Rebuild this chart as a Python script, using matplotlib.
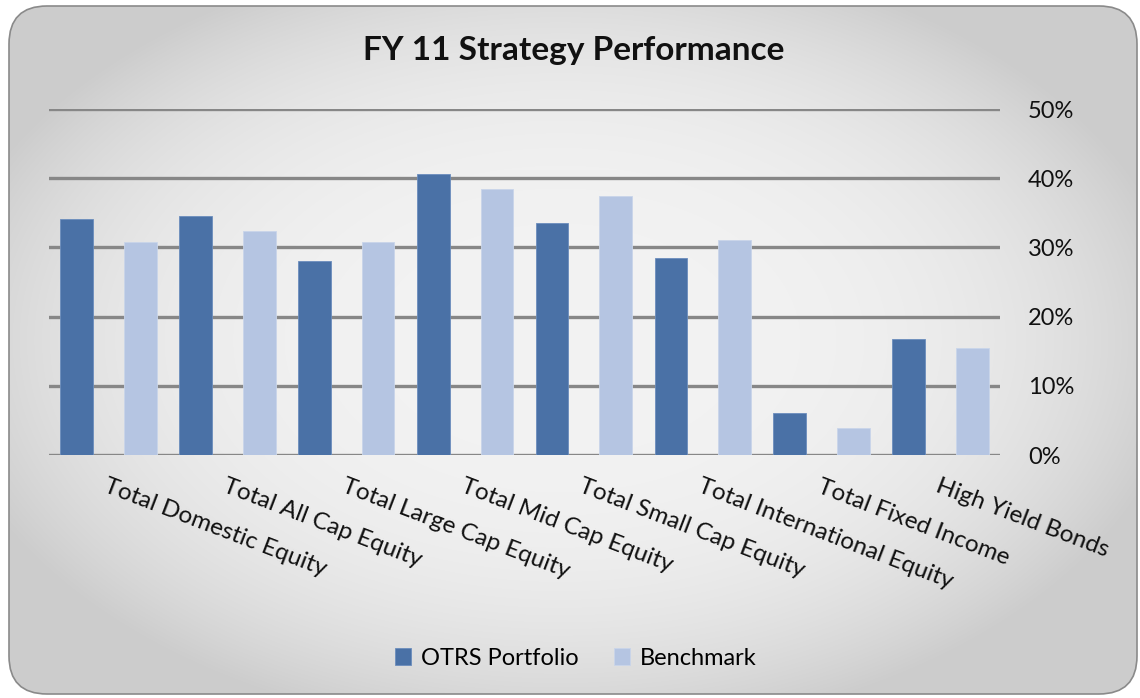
import numpy as np
import matplotlib
matplotlib.use("Agg")
import matplotlib.pyplot as plt
from matplotlib.patches import FancyBboxPatch
from matplotlib.ticker import FuncFormatter

categories = ["Total Domestic Equity", "Total All Cap Equity", "Total Large Cap Equity",
              "Total Mid Cap Equity", "Total Small Cap Equity", "Total International Equity",
              "Total Fixed Income", "High Yield Bonds"]
otrs = [34.1, 34.6, 28.1, 40.6, 33.5, 28.5, 6.0, 16.7]
benchmark = [30.8, 32.4, 30.8, 38.5, 37.4, 31.0, 3.9, 15.4]
series_names = ["OTRS Portfolio", "Benchmark"]

dark = "#4a71a6"
light = "#b5c5e2"
plt.rcParams["font.family"] = ["Lato", "DejaVu Sans"]

W, H = 1140, 698
fig = plt.figure(figsize=(W / 100, H / 100), dpi=100)
fig.patch.set_facecolor("white")

# rounded frame with soft gradient fill
bg = fig.add_axes([0, 0, 1, 1], zorder=0)
bg.set_xlim(0, W)
bg.set_ylim(H, 0)
bg.axis("off")
yy, xx = np.mgrid[0:H, 0:W]
r = np.sqrt(((xx - 560) / 600.0) ** 2 + ((yy - 340) / 380.0) ** 2)
shade = np.clip(0.952 - 0.13 * r ** 3.2, 0.80, 0.955)
img = bg.imshow(np.dstack([shade] * 3), extent=(0, W, H, 0), interpolation="bilinear")
frame = FancyBboxPatch((9, 6), 1128, 688, boxstyle="round,pad=0,rounding_size=38",
                       facecolor="none", edgecolor="#8a8a8a", linewidth=1.2)
bg.add_patch(frame)
img.set_clip_path(frame)

ax = fig.add_axes([49 / W, 1 - 455 / H, (1000 - 49) / W, (455 - 109) / H], zorder=1)
ax.patch.set_alpha(0)
x = np.arange(len(categories))
bw = 0.275
ax.bar(x - 0.268, otrs, bw, color=dark, edgecolor="#6b8dbd", linewidth=0.6,
       label=series_names[0], zorder=3)
ax.bar(x + 0.268, benchmark, bw, color=light, edgecolor="#c9d5ea", linewidth=0.6,
       label=series_names[1], zorder=3)

ax.set_xlim(-0.5, len(categories) - 0.5)
ax.set_ylim(0, 50)
ax.set_yticks(np.arange(0, 51, 10))
ax.yaxis.set_major_formatter(FuncFormatter(lambda v, p: f"{v:.0f}%"))
ax.yaxis.tick_right()
ax.tick_params(axis="y", length=0, pad=20, labelsize=17, labelcolor="#111111")
ax.grid(axis="y", color="#878787", linewidth=2.4, zorder=1)
ax.set_xticks([])
for s in ax.spines.values():
    s.set_visible(False)

for i, c in enumerate(categories):
    ax.text(i, -3.0, c, rotation=-21, rotation_mode="anchor", ha="left", va="top",
            fontsize=17.5, color="#111111")

fig.text(0.503, 0.927, "FY 11 Strategy Performance", ha="center", va="center",
         fontsize=24, fontweight="bold", color="#111111")

fig.legend(loc="center", bbox_to_anchor=(0.505, 0.057), ncol=2, frameon=False,
           fontsize=17, handlelength=0.7, handleheight=0.7, handletextpad=0.4,
           columnspacing=1.5)

fig.savefig("out.png", dpi=100)
